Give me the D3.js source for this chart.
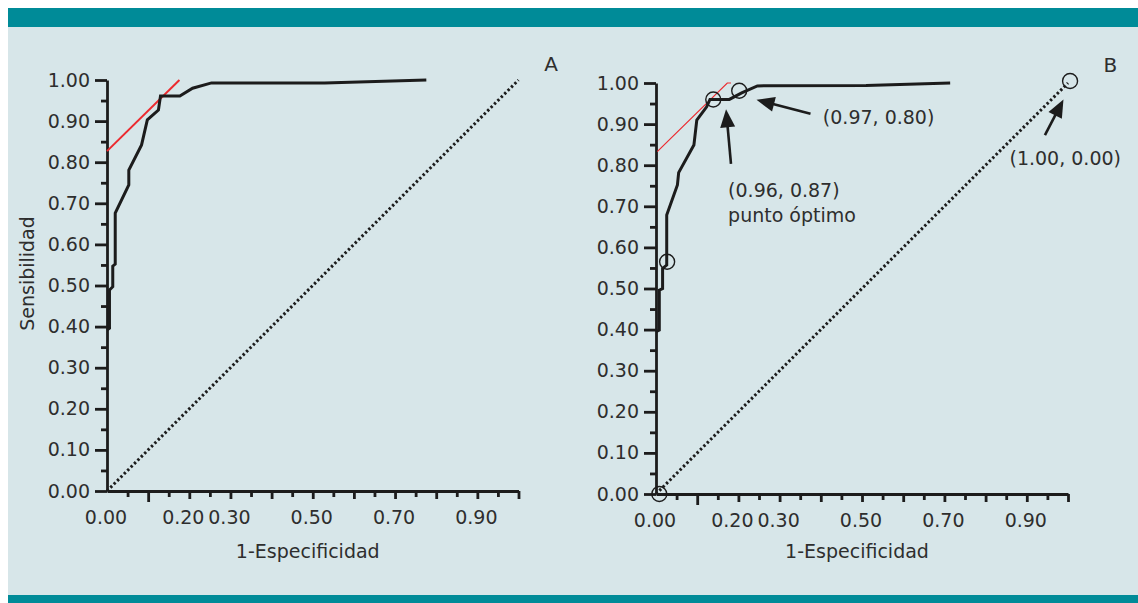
<!DOCTYPE html>
<html>
<head>
<meta charset="utf-8">
<script src="https://cdn.jsdelivr.net/npm/d3@7"></script>
<style>
  body { margin: 0; background: #ffffff; }
  svg text { font-family: "DejaVu Sans", sans-serif; fill: #2e2e2e; }
</style>
</head>
<body>
<div id="chart"></div>
<script>
// ROC curve, panel A
var fprA = [0, 0.006, 0.006, 0.014, 0.014, 0.020, 0.020, 0.053, 0.053, 0.084, 0.098, 0.125, 0.130, 0.177, 0.208, 0.254, 0.529, 0.776];
var tprA = [0.392, 0.396, 0.489, 0.497, 0.547, 0.552, 0.676, 0.745, 0.781, 0.842, 0.903, 0.927, 0.961, 0.961, 0.980, 0.993, 0.993, 1.000];
// ROC curve, panel B
var fprB = [0, 0.008, 0.008, 0.016, 0.016, 0.026, 0.026, 0.052, 0.055, 0.092, 0.099, 0.123, 0.131, 0.178, 0.208, 0.246, 0.510, 0.714];
var tprB = [0.395, 0.399, 0.496, 0.500, 0.549, 0.557, 0.679, 0.752, 0.782, 0.849, 0.910, 0.942, 0.960, 0.960, 0.976, 0.993, 0.994, 1.000];

// red tangent lines
var tangentAx = [0, 0.176];
var tangentAy = [0.827, 1.0];
var tangentBx = [0.003, 0.173, 0.182];
var tangentBy = [0.833, 1.0, 1.0];

// chance line
var diagonal = [0, 1];

// marked points in panel B
var circleBx = [0.008, 0.027, 0.139, 0.202, 1.005];
var circleBy = [0.0, 0.565, 0.960, 0.981, 1.005];

// annotations in panel B (arrow tail -> tip, then label)
var noteLabels = [["(0.97, 0.80)"], ["(0.96, 0.87)", "punto óptimo"], ["(1.00, 0.00)"]];
var noteTail = [[0.375, 0.925], [0.182, 0.803], [0.944, 0.873]];
var noteTip = [[0.244, 0.959], [0.170, 0.936], [0.989, 0.960]];
var noteText = [[0.405, 0.900], [0.175, 0.723], [0.858, 0.800]];

// ticks
var yTickLabels = [0, 0.1, 0.2, 0.3, 0.4, 0.5, 0.6, 0.7, 0.8, 0.9, 1.0];
var yMinorTicks = [0.05, 0.15, 0.25, 0.35, 0.45, 0.55, 0.65, 0.75, 0.85, 0.95];
var xTickLabels = [0, 0.2, 0.3, 0.5, 0.7, 0.9];
var xTickMarks = [0.05, 0.1, 0.15, 0.2, 0.25, 0.3, 0.35, 0.4, 0.45, 0.5, 0.55, 0.6, 0.65, 0.7, 0.75, 0.8, 0.85, 0.9, 0.95, 1.0];

var svgWidth = 1138, svgHeight = 603;
var teal = "#008b98", panelBg = "#d7e6e9", ink = "#1c1c1c";
var fontSize = "19px";

var svg = d3.select("#chart").append("svg")
    .attr("width", svgWidth)
    .attr("height", svgHeight);

// frame: white margin, teal bars, light panel
svg.append("rect").attr("width", svgWidth).attr("height", svgHeight).attr("fill", "#ffffff");
svg.append("rect").attr("x", 8).attr("y", 27).attr("width", svgWidth - 8).attr("height", 568).attr("fill", panelBg);
svg.append("rect").attr("x", 8).attr("y", 8).attr("width", svgWidth - 8).attr("height", 19).attr("fill", teal);
svg.append("rect").attr("x", 8).attr("y", 595).attr("width", svgWidth - 8).attr("height", 8).attr("fill", teal);

function pairs(xs, ys) {
    return xs.map(function(v, i) { return [v, ys[i]]; });
}

function drawPanel(cfg) {
    var x = d3.scaleLinear().domain([0, 1]).range([cfg.left, cfg.right]);
    var y = d3.scaleLinear().domain([0, 1]).range([cfg.bottom, cfg.top]);
    var g = svg.append("g");

    // y axis with labels
    var yAxis = g.append("g")
        .attr("transform", `translate(${cfg.left},0)`)
        .call(d3.axisLeft(y).tickValues(yTickLabels).tickSize(12).tickSizeOuter(0)
            .tickPadding(5).tickFormat(d3.format(".2f")));
    yAxis.selectAll("text").style("font-size", fontSize).attr("fill", "#2e2e2e");
    g.append("g")
        .attr("transform", `translate(${cfg.left},0)`)
        .call(d3.axisLeft(y).tickValues(yMinorTicks).tickSize(6).tickFormat(""))
        .select(".domain").remove();

    // x axis: tick marks of three lengths, labels separately
    var xAxis = g.append("g")
        .attr("transform", `translate(0,${cfg.bottom})`)
        .call(d3.axisBottom(x).tickValues(xTickMarks).tickSizeOuter(0).tickFormat(""));
    xAxis.selectAll(".tick line")
        .attr("y2", function(d) {
            if (Math.abs(d - 0.1) < 1e-6) return 11;
            return Math.abs(Math.round(d * 10) - d * 10) < 1e-6 ? 8 : 6;
        });
    g.append("g").selectAll("text")
        .data(xTickLabels)
        .enter()
        .append("text")
            .attr("x", d => x(d) + (Math.abs(d - 0.2) < 1e-6 ? -6 : -1))
            .attr("y", cfg.bottom + 33)
            .attr("text-anchor", "middle")
            .style("font-size", fontSize)
            .text(d3.format(".2f"));

    g.selectAll("path.domain, .tick line").attr("stroke", ink).attr("stroke-width", 2.8);

    var line = d3.line().x(d => x(d[0])).y(d => y(d[1]));

    // chance diagonal
    g.append("path")
        .datum(pairs(diagonal, diagonal))
        .attr("d", line)
        .attr("fill", "none")
        .attr("stroke", ink)
        .attr("stroke-width", 3)
        .attr("stroke-dasharray", "2.4 2.4");

    // tangent
    g.append("path")
        .datum(pairs(cfg.redX, cfg.redY))
        .attr("d", line)
        .attr("fill", "none")
        .attr("stroke", "#ec2a2f")
        .attr("stroke-width", cfg.redWidth);

    // ROC curve
    g.append("path")
        .datum(pairs(cfg.fpr, cfg.tpr))
        .attr("d", line)
        .attr("fill", "none")
        .attr("stroke", ink)
        .attr("stroke-width", 3);

    // circles
    if (cfg.circles) {
        g.append("g").selectAll("circle")
            .data(cfg.circles)
            .enter()
            .append("circle")
                .attr("cx", d => x(d[0]))
                .attr("cy", d => y(d[1]))
                .attr("r", 7.5)
                .attr("fill", "none")
                .attr("stroke", ink)
                .attr("stroke-width", 1.4);
    }

    // annotations: shaft + filled head
    if (cfg.notes) {
        cfg.notes.forEach(function(n) {
            var x1 = x(n.tail[0]), y1 = y(n.tail[1]);
            var x2 = x(n.tip[0]), y2 = y(n.tip[1]);
            var ang = Math.atan2(y2 - y1, x2 - x1);
            var headLen = 18, headHalf = 7.5;
            var bx = x2 - headLen * Math.cos(ang), by = y2 - headLen * Math.sin(ang);
            g.append("line")
                .attr("x1", x1).attr("y1", y1)
                .attr("x2", bx + 2 * Math.cos(ang)).attr("y2", by + 2 * Math.sin(ang))
                .attr("stroke", ink)
                .attr("stroke-width", 2.6);
            g.append("path")
                .attr("d", d3.line()([
                    [x2, y2],
                    [bx + headHalf * Math.sin(ang), by - headHalf * Math.cos(ang)],
                    [bx - headHalf * Math.sin(ang), by + headHalf * Math.cos(ang)]
                ]) + "Z")
                .attr("fill", ink);
            n.lines.forEach(function(t, i) {
                g.append("text")
                    .attr("x", x(n.at[0]))
                    .attr("y", y(n.at[1]) + i * 25)
                    .style("font-size", fontSize)
                    .text(t);
            });
        });
    }

    // panel letter
    g.append("text")
        .attr("x", x(cfg.letterAt[0]))
        .attr("y", y(cfg.letterAt[1]))
        .attr("text-anchor", "middle")
        .style("font-size", "20px")
        .text(cfg.letter);

    // x axis title
    g.append("text")
        .attr("x", (cfg.left + cfg.right) / 2 - 5)
        .attr("y", 558)
        .attr("text-anchor", "middle")
        .style("font-size", fontSize)
        .text("1-Especificidad");

    if (cfg.yTitle) {
        g.append("text")
            .attr("transform", `translate(34,${(cfg.top + cfg.bottom) / 2 - 12}) rotate(-90)`)
            .attr("text-anchor", "middle")
            .style("font-size", fontSize)
            .text(cfg.yTitle);
    }
}

drawPanel({
    left: 107, right: 518.5, top: 80, bottom: 491,
    fpr: fprA, tpr: tprA,
    redX: tangentAx, redY: tangentAy, redWidth: 2,
    letter: "A", letterAt: [1.079, 1.022],
    yTitle: "Sensibilidad"
});

drawPanel({
    left: 656, right: 1068, top: 83, bottom: 494,
    fpr: fprB, tpr: tprB,
    redX: tangentBx, redY: tangentBy, redWidth: 1.2,
    letter: "B", letterAt: [1.103, 1.027],
    circles: pairs(circleBx, circleBy),
    notes: noteLabels.map(function(l, i) {
        return { lines: l, tail: noteTail[i], tip: noteTip[i], at: noteText[i] };
    })
});
</script>
</body>
</html>
